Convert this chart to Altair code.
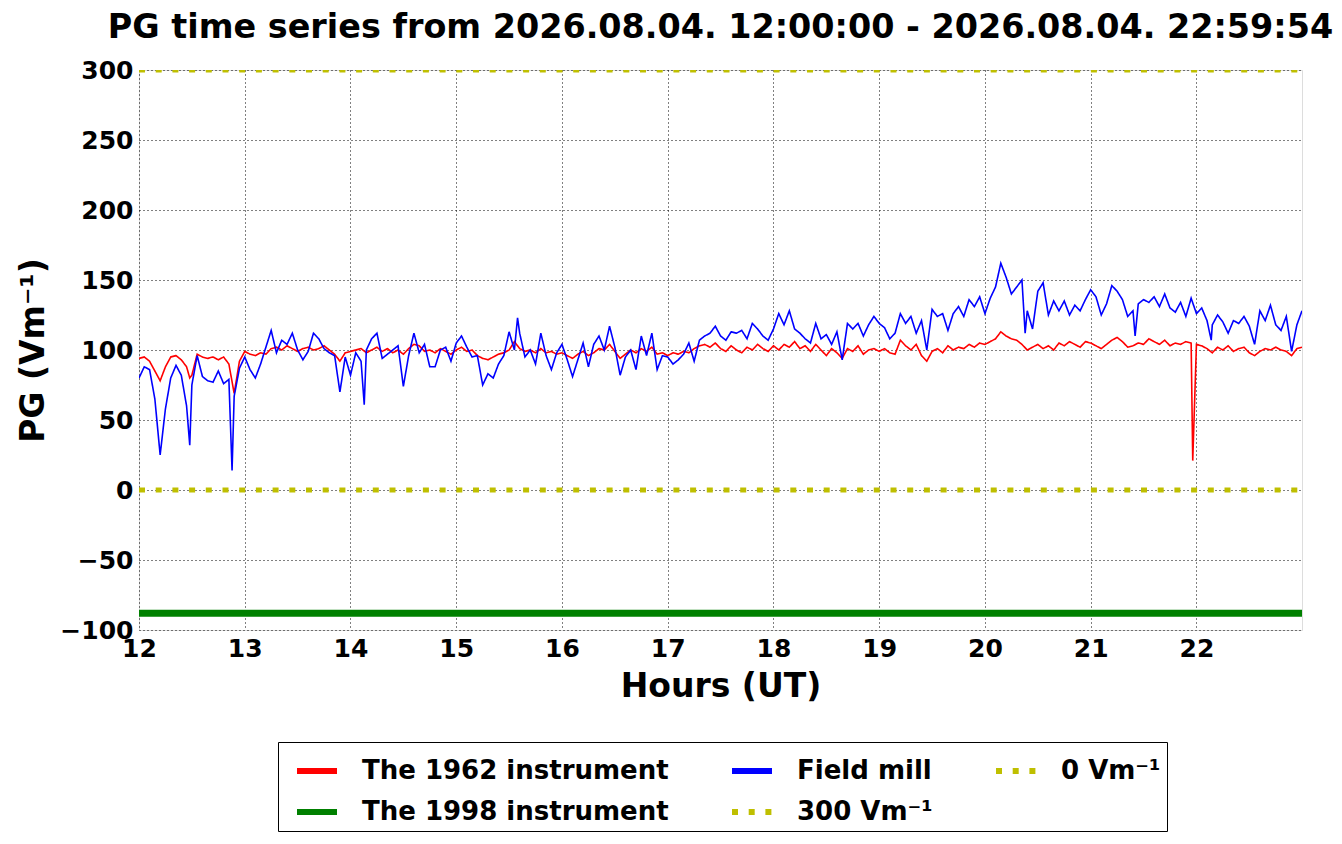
import altair as alt
import pandas as pd

# ---------------- data ----------------
HOURS = list(range(12, 23))          # 12 .. 22, 20 samples per hour (every 3 minutes)
STEP = 0.05
T_END = 22.9983                      # 22:59:54

# The 1962 instrument (red)
RED = [
    [94, 95, 92, 85, 78, 88, 95, 96, 93, 88, 82, 97, 95, 94, 95, 93, 95, 90, 69, 92],
    [99, 97, 96, 98, 97, 101, 102, 100, 103, 101, 99, 101, 102, 100, 101, 103, 100, 97, 92, 98],
    [99, 100, 101, 98, 100, 102, 99, 101, 98, 100, 97, 101, 104, 103, 99, 100, 98, 101, 99, 97],
    [100, 102, 99, 100, 96, 94, 93, 95, 97, 98, 100, 106, 101, 99, 100, 98, 101, 98, 99, 97],
    [98, 96, 94, 97, 99, 96, 98, 101, 100, 104, 99, 94, 97, 100, 98, 101, 99, 102, 97, 98],
    [96, 98, 97, 99, 98, 101, 103, 104, 102, 105, 101, 99, 103, 100, 98, 102, 100, 104, 101, 99],
    [103, 100, 104, 102, 106, 101, 103, 99, 104, 100, 96, 101, 98, 94, 101, 99, 103, 97, 100, 101],
    [99, 101, 98, 97, 107, 103, 100, 104, 96, 92, 99, 101, 98, 103, 100, 102, 101, 104, 102, 105],
    [104, 106, 108, 113, 110, 108, 107, 104, 100, 102, 104, 101, 103, 100, 105, 103, 106, 104, 102, 106],
    [105, 103, 101, 104, 107, 109, 106, 102, 103, 105, 104, 108, 106, 104, 107, 103, 105, 104, 106, 105],
    [104, 103, 101, 98, 102, 100, 103, 99, 101, 102, 98, 96, 99, 101, 100, 102, 100, 99, 96, 101],
]
RED_SPIKE_T = [12.48, 21.965]
RED_SPIKE_V = [80, 21]
RED_END = 102

# Field mill (blue)
BLUE = [
    [80, 88, 86, 65, 25, 58, 80, 89, 82, 60, 75, 96, 81, 78, 77, 85, 76, 79, 67, 87],
    [95, 86, 80, 90, 102, 114, 98, 107, 104, 112, 100, 93, 99, 112, 108, 101, 98, 96, 70, 95],
    [82, 98, 92, 100, 108, 112, 94, 97, 100, 103, 74, 96, 112, 98, 104, 88, 88, 100, 102, 92],
    [105, 110, 102, 95, 96, 75, 83, 80, 90, 96, 113, 100, 112, 95, 100, 90, 112, 96, 86, 98],
    [104, 93, 81, 93, 105, 88, 104, 110, 100, 117, 102, 82, 95, 100, 86, 110, 96, 112, 86, 96],
    [95, 90, 93, 97, 105, 92, 107, 110, 112, 117, 110, 107, 113, 112, 114, 108, 119, 115, 110, 107],
    [115, 126, 118, 128, 115, 112, 108, 105, 119, 108, 111, 104, 113, 93, 119, 115, 119, 110, 118, 124],
    [119, 116, 108, 112, 126, 119, 124, 112, 121, 100, 129, 124, 126, 114, 126, 131, 124, 136, 131, 138],
    [126, 137, 145, 162, 152, 140, 145, 150, 128, 115, 142, 148, 125, 135, 128, 135, 125, 132, 128, 136],
    [143, 138, 125, 133, 146, 142, 136, 124, 128, 133, 136, 134, 138, 131, 140, 130, 127, 134, 124, 137],
    [126, 130, 121, 118, 125, 120, 112, 121, 119, 124, 117, 104, 128, 121, 132, 118, 114, 124, 99, 118],
]
BLUE_SPIKE_T = [12.48, 12.88, 14.13, 15.58, 20.38, 21.42, 22.14]
BLUE_SPIKE_V = [32, 14, 61, 123, 112, 110, 107]
BLUE_END = 128

GREEN_LEVEL = -88      # The 1998 instrument
LEVEL_300 = 300
LEVEL_0 = 0

S1962 = "The 1962 instrument"
S1998 = "The 1998 instrument"
SMILL = "Field mill"
S300 = "300 Vm⁻¹"
S0 = "0 Vm⁻¹"


def build(hour_lists, spike_t, spike_v, end_v, name):
    t, v = [], []
    for h, vals in zip(HOURS, hour_lists):
        for i, val in enumerate(vals):
            t.append(round(h + i * STEP, 4))
            v.append(val)
    t += spike_t
    v += spike_v
    t.append(T_END)
    v.append(end_v)
    df = pd.DataFrame({"t": t, "v": v}).sort_values("t").reset_index(drop=True)
    df["series"] = name
    return df


def level(value, name):
    return pd.DataFrame({"t": [12.0, T_END], "v": [value, value], "series": [name, name]})


df_red = build(RED, RED_SPIKE_T, RED_SPIKE_V, RED_END, S1962)
df_blue = build(BLUE, BLUE_SPIKE_T, BLUE_SPIKE_V, BLUE_END, SMILL)
df_green = level(GREEN_LEVEL, S1998)
df_300 = level(LEVEL_300, S300)
df_0 = level(LEVEL_0, S0)

FONT = "DejaVu Sans"
YEL = "#bfbf00"
DOT = [6, 10.7]

# legend fills column-major with 2 rows -> same order as matplotlib
domain = [S1962, S1998, SMILL, S300, S0]
color_scale = alt.Scale(domain=domain, range=["#ff0000", "#008000", "#0000ff", YEL, YEL])
dash_scale = alt.Scale(domain=domain, range=[[1, 0], [1, 0], [1, 0], DOT, DOT])

legend = alt.Legend(
    title=None, orient="none", legendX=139, legendY=672, columns=3,
    symbolType="stroke", symbolSize=1600, symbolStrokeWidth=6, symbolOffset=10,
    labelFont=FONT, labelFontSize=26, labelFontWeight="bold", labelColor="black",
    labelOffset=22, labelLimit=0, strokeColor="black", fillColor="white",
    padding=6, rowPadding=5, columnPadding=50,
)

x_enc = alt.X(
    "t:Q",
    scale=alt.Scale(domain=[12, T_END], nice=False, zero=False),
    axis=alt.Axis(
        values=list(range(12, 23)), format="d", title="Hours (UT)",
        labelFont=FONT, labelFontSize=25, labelFontWeight="bold", labelColor="black",
        labelPadding=6, labelFlush=False, ticks=False, domain=False,
        grid=True, gridDash=[1, 3], gridColor="black", gridWidth=1,
        titleFont=FONT, titleFontSize=33, titleFontWeight="bold", titleColor="black",
        titleY=66, titleBaseline="alphabetic",
    ),
)
y_enc = alt.Y(
    "v:Q",
    scale=alt.Scale(domain=[-100, 300], nice=False, zero=False),
    axis=alt.Axis(
        values=list(range(-100, 301, 50)), title="PG (Vm⁻¹)",
        labelFont=FONT, labelFontSize=25, labelFontWeight="bold", labelColor="black",
        labelPadding=6, labelFlush=False, ticks=False, domain=False,
        grid=True, gridDash=[1, 3], gridColor="black", gridWidth=1,
        titleFont=FONT, titleFontSize=33, titleFontWeight="bold", titleColor="black",
        titleX=-106, titleY=280, titleAngle=270, titleAlign="center", titleBaseline="middle",
    ),
)


def layer(df, width):
    return alt.Chart(df).mark_line(strokeWidth=width, clip=True).encode(
        x=x_enc,
        y=y_enc,
        color=alt.Color("series:N", scale=color_scale, legend=legend),
        strokeDash=alt.StrokeDash("series:N", scale=dash_scale, legend=legend),
    )


chart = alt.layer(
    layer(df_red, 1.6),
    layer(df_green, 7),
    layer(df_blue, 1.6),
    layer(df_300, 5),
    layer(df_0, 5),
).properties(
    width=1163,
    height=560,
    padding={"left": 131, "top": 62, "right": 32, "bottom": 212},
    autosize=alt.AutoSizeParams(type="none"),
    title=alt.TitleParams(
        text="PG time series from 2026.08.04. 12:00:00 - 2026.08.04. 22:59:54",
        font=FONT, fontSize=33.4, fontWeight="bold", color="black",
        anchor="middle", frame="group", offset=-20, baseline="bottom", limit=1400,
    ),
).configure_view(
    stroke="black", strokeWidth=1.5
).configure(background="white")

chart.save("out.html", embed_options={"renderer": "svg", "actions": False})
